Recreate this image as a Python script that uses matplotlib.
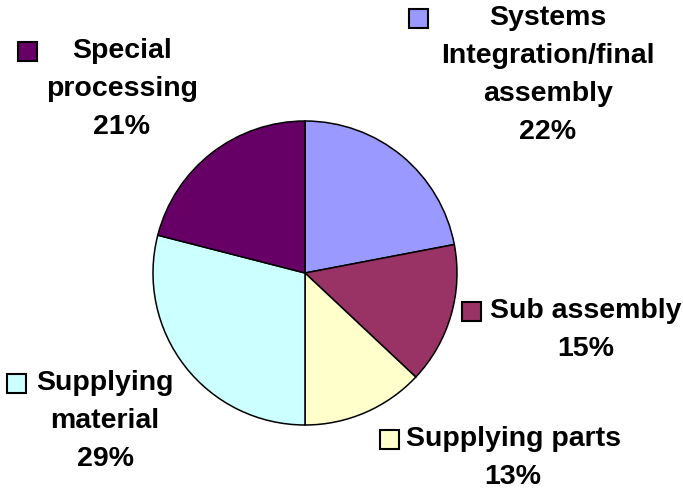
import matplotlib.pyplot as plt

labels = ["Systems\nIntegration/final\nassembly", "Sub assembly", "Supplying parts",
          "Supplying\nmaterial", "Special\nprocessing"]
shares = [22, 15, 13, 29, 21]
colors = ["#9999FF", "#993366", "#FFFFCC", "#CCFFFF", "#660066"]

W, H = 683, 490
fig = plt.figure(figsize=(W / 100, H / 100), dpi=100)
plt.rcParams['font.family'] = ['Liberation Sans', 'DejaVu Sans']

# pie centre (305, 273) px, radius 152 px
cx, cy, r = 305, 273, 152
ax = fig.add_axes([(cx - r) / W, (H - cy - r) / H, 2 * r / W, 2 * r / H])
ax.pie(shares, colors=colors, startangle=90, counterclock=False,
       wedgeprops=dict(edgecolor="black", linewidth=1.1))
ax.set_xlim(-1, 1)
ax.set_ylim(-1, 1)
ax.set_aspect("auto")
ax.axis("off")

# label layout: text centre x, first line y, key square left x (pixels)
layout = [
    (548, 18, 409),
    (586, 311, 462),
    (513, 439, 380),
    (105, 383, 7),
    (122, 51, 18),
]
step = 38
for lab, pct, col, (tx, ty, kx) in zip(labels, shares, colors, layout):
    lines = lab.split("\n") + [f"{pct}%"]
    for i, line in enumerate(lines):
        fig.text(tx / W, 1 - (ty + i * step) / H, line, ha="center", va="center",
                 fontsize=20.5, fontweight="bold")
    sq = plt.Rectangle((kx / W, 1 - (ty + 10) / H), 19 / W, 19 / H,
                       transform=fig.transFigure, facecolor=col,
                       edgecolor="black", linewidth=1.5)
    fig.patches.append(sq)

fig.savefig("out.png", dpi=100)
